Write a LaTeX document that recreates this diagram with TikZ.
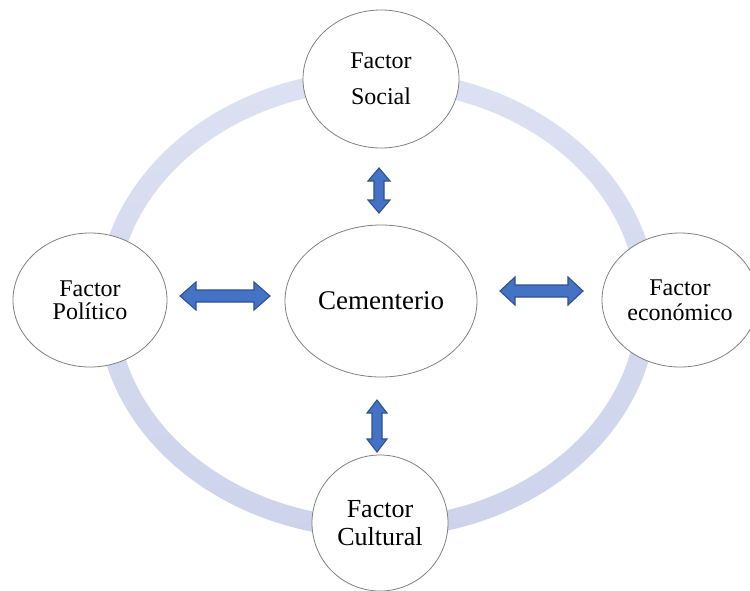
\documentclass[tikz,border=0pt]{standalone}
\usepackage{fontspec}
\setmainfont{Liberation Serif}
\usetikzlibrary{shapes.geometric}

\definecolor{ringtop}{RGB}{220,225,242}
\definecolor{ringbottom}{RGB}{204,211,235}
\definecolor{edgegray}{RGB}{128,128,128}
\definecolor{arrowfill}{RGB}{68,114,196}
\definecolor{arrowedge}{RGB}{47,82,143}

% horizontal double arrow: x1, x2, y, shaft half width, head half width, head length
\newcommand\darrowh[6]{%
  \path[bluearrow] ({#1},{#3}) -- ({#1+#6},{#3-#5}) -- ({#1+#6},{#3-#4})
    -- ({#2-#6},{#3-#4}) -- ({#2-#6},{#3-#5}) -- ({#2},{#3})
    -- ({#2-#6},{#3+#5}) -- ({#2-#6},{#3+#4}) -- ({#1+#6},{#3+#4})
    -- ({#1+#6},{#3+#5}) -- cycle;}
% vertical double arrow: y1, y2, x, shaft half width, head half width, head length
\newcommand\darrowv[6]{%
  \path[bluearrow] ({#3},{#1}) -- ({#3-#5},{#1+#6}) -- ({#3-#4},{#1+#6})
    -- ({#3-#4},{#2-#6}) -- ({#3-#5},{#2-#6}) -- ({#3},{#2})
    -- ({#3+#5},{#2-#6}) -- ({#3+#4},{#2-#6}) -- ({#3+#4},{#1+#6})
    -- ({#3+#5},{#1+#6}) -- cycle;}

\begin{document}
\begin{tikzpicture}[x=1pt,y=-1pt,
  factor/.style={ellipse, draw=edgegray, line width=0.8pt, fill=white,
    inner sep=0pt, align=center},
  bluearrow/.style={fill=arrowfill, draw=arrowedge, line width=1.1pt,
    line join=miter}]
  \clip (0,0) rectangle (750,590);
  \fill[white] (0,0) rectangle (750,590);

  % pale ring linking the four factors, lighter at the top
  \shade[even odd rule, top color=ringtop, bottom color=ringbottom]
    (377,304) ellipse [x radius=280pt, y radius=234pt]
    (377,304) ellipse [x radius=260pt, y radius=214pt];

  % central node and the four factors
  \node[factor, minimum width=192pt, minimum height=152pt,
        font={\fontsize{27}{30}\selectfont}] (cem) at (381,301) {Cementerio};
  \node[factor, minimum width=156pt, minimum height=138pt,
        font={\fontsize{24}{36}\selectfont}] (soc) at (381,79) {Factor\\Social};
  \node[factor, minimum width=154pt, minimum height=134pt,
        font={\fontsize{24}{23}\selectfont}] (pol) at (90,300) {Factor\\Político};
  \node[factor, minimum width=156pt, minimum height=134pt,
        font={\fontsize{24}{25}\selectfont}] (eco) at (680,300) {Factor\\económico};
  \node[factor, minimum width=136pt, minimum height=136pt,
        font={\fontsize{26}{28}\selectfont}] (cul) at (380,523) {Factor\\Cultural};

  % double arrows between the centre and each factor
  \darrowh{180}{270}{296}{6}{14}{16}
  \darrowh{500}{583}{291}{6}{14}{15}
  \darrowv{168}{213}{379}{5}{11}{13}
  \darrowv{400}{452}{377}{5}{10}{13}
\end{tikzpicture}
\end{document}
